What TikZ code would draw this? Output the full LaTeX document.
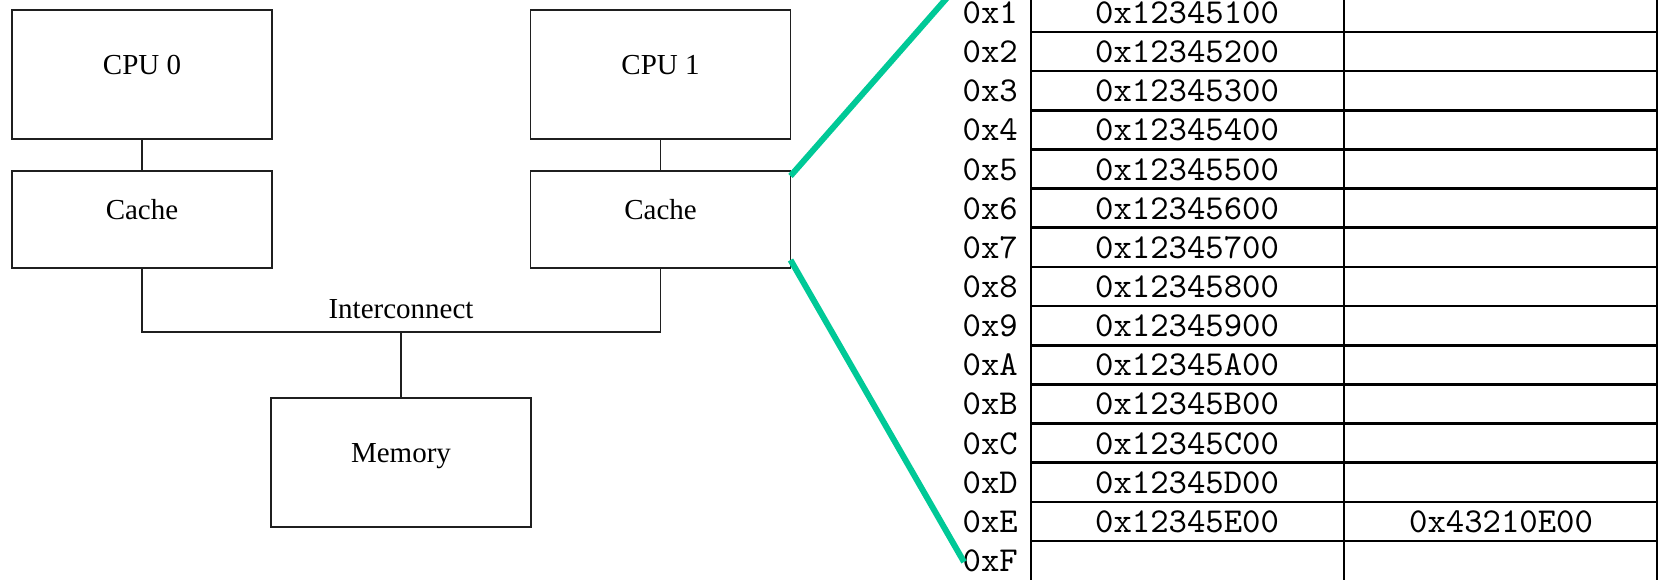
\documentclass[tikz,border=0pt]{standalone}
\usepackage{fontspec}
\setmainfont{Liberation Serif}
\setmonofont{lmmono10-regular.otf}
\usetikzlibrary{calc}
\definecolor{zoomgreen}{RGB}{0,201,151}
\tikzset{
  unitbox/.style={draw=black!88, line width=1.7pt, rectangle, inner sep=0pt, outer sep=0pt,
    minimum width=260pt, text height=10pt, text depth=10pt,
    font=\fontsize{29}{34}\selectfont},
  wire/.style={draw=black!88, line width=1.7pt},
  grid/.style={draw=black, line width=2.6pt},
  addr/.style={inner sep=0pt, font=\ttfamily\fontsize{35}{40}\selectfont},
  zoomline/.style={draw=zoomgreen, line width=6pt}
}
\begin{document}
\begin{tikzpicture}[x=1pt, y=-1pt]
\useasboundingbox (0,0) rectangle (1661,579);
\clip (0,0) rectangle (1661,579);

% processors, caches and memory
\node[unitbox, minimum height=129pt] (cpu0) at (142,74.5) {CPU 0};
\node[unitbox, minimum height=97pt]  (c0)   at (142,219.5) {Cache};
\node[unitbox, minimum height=129pt] (cpu1) at (660.5,74.5) {CPU 1};
\node[unitbox, minimum height=97pt]  (c1)   at (660.5,219.5) {Cache};
\node[unitbox, minimum height=129pt] (mem)  at (401,462.5) {Memory};

\draw[wire] (cpu0) -- (c0);
\draw[wire] (cpu1) -- (c1);
\draw[wire] (c0.south) -- ++(0,64) coordinate (busl) -| (c1.south);
\coordinate (bus) at (401,332);
\draw[wire] (mem.north) -- (bus);
\node[inner sep=0pt, anchor=base, font=\fontsize{29}{34}\selectfont] (ic) at (401,318) {Interconnect};

% cache table
\foreach \xx in {1031,1344,1657}
  \draw[grid] (\xx,-20) -- (\xx,600);
\foreach \k in {0,...,13}
  \draw[grid] (1031,32+\k*39.15) -- (1657,32+\k*39.15);

\foreach \h [count=\i] in {1,2,3,4,5,6,7,8,9,A,B,C,D,E,F} {
  \pgfmathsetmacro\yb{12.425+(\i-1)*39.15+11}
  \node[addr, anchor=base east] (a\i) at (1018,\yb) {0x\h};
  \ifnum\i<15
    \node[addr, anchor=base] (v\i) at (1187,\yb) {0x12345\h00};
  \fi
}
\node[addr, anchor=base] (w14) at (1501,{12.425+13*39.15+11}) {0x43210E00};

% zoom lines from the cache to the table
\coordinate (g1) at ($(c1.east)+(0,-43.5)$);
\coordinate (g2) at ($(c1.east)+(0,40.5)$);
\coordinate (t1) at (960,-17);
\coordinate (t2) at (964,562);
\draw[zoomline] (g1) -- (t1);
\draw[zoomline] (g2) -- (t2);
\end{tikzpicture}
\end{document}
